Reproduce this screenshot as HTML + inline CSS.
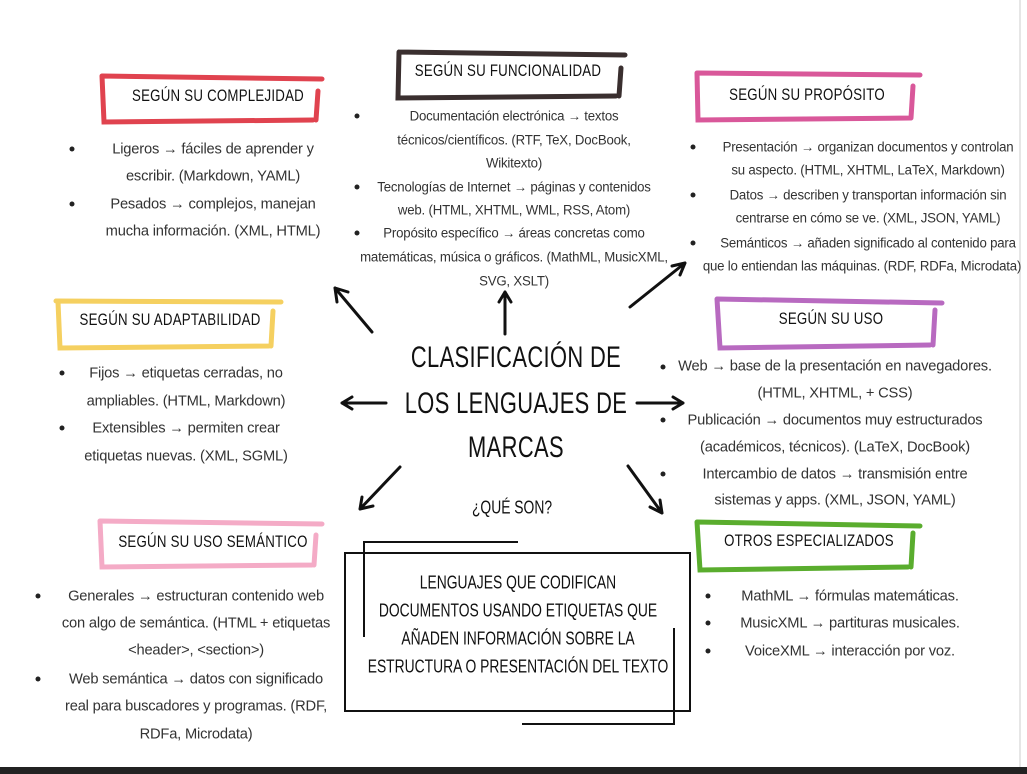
<!DOCTYPE html>
<html><head><meta charset="utf-8"><style>
body{margin:0;width:1027px;height:774px;background:#fff;position:relative;overflow:hidden;font-family:"Liberation Sans",sans-serif;color:#333}
.l{position:absolute;transform:translate(-50%,-50%) scaleX(0.98);white-space:nowrap;font-size:15px;letter-spacing:-0.2px}
.s{font-size:13.5px}
.h{position:absolute;transform:translate(-50%,-50%) scaleX(0.78);white-space:nowrap;font-size:17px;color:#111;letter-spacing:0.3px}
.b{position:absolute;width:5px;height:5px;border-radius:50%;background:#222;transform:translate(-50%,-50%)}
.t{position:absolute;transform:translate(-50%,-50%) scaleX(0.73);white-space:nowrap;font-size:30px;color:#111;letter-spacing:0.5px}
.m{position:absolute;transform:translate(-50%,-50%) scaleX(0.77);white-space:nowrap;font-size:18px;color:#111}
</style></head><body>
<svg width="1027" height="774" style="position:absolute;left:0;top:0">
<g fill="none" stroke-width="5" stroke-linecap="round">
<path d="M102,76 L322,79 M102,76 L104,122 L313,120 M318,91 L316,120" stroke="#e0434f"/>
<path d="M399,52 L625,55 M399,52 L398,98 L616,96 M621,68 L619,96" stroke="#3a2f2f"/>
<path d="M697,73 L920,75 M697,73 L698,120 L910,118 M913,86 L911,118" stroke="#d9589a"/>
<path d="M56,301 L281,302 M58,302 L60,348 L269,346 M273,311 L271,346" stroke="#f5d060"/>
<path d="M717,299 L942,303 M717,299 L720,348 L930,345 M935,310 L933,345" stroke="#b86ac0"/>
<path d="M100,521 L322,524 M100,521 L102,567 L312,565 M316,535 L314,565" stroke="#f4abc6"/>
<path d="M697,522 L920,526 M697,522 L700,570 L908,567 M913,533 L911,567" stroke="#5aad2e"/>
</g>
<g fill="none" stroke="#111" stroke-width="3" stroke-linecap="round" stroke-linejoin="round">
<path d="M372,332 L335,288 M335,288 L337,302 M335,288 L348,292"/>
<path d="M505,334 L505,292 M505,292 L499,302 M505,292 L511,302"/>
<path d="M630,307 L685,263 M685,263 L672,266 M685,263 L680,275"/>
<path d="M386,403 L342,403 M342,403 L352,397 M342,403 L352,409"/>
<path d="M637,403 L683,403 M683,403 L673,397 M683,403 L673,409"/>
<path d="M400,467 L360,509 M360,509 L373,506 M360,509 L362,497"/>
<path d="M628,466 L662,513 M662,513 L660,500 M662,513 L650,507"/>
</g>
<g fill="none" stroke="#111" stroke-width="2">
<rect x="345" y="553" width="345" height="158"/>
<path d="M364,637 L364,542 L518,542"/>
<path d="M522,724 L674,724 L674,628"/>
</g>
<rect x="0" y="767" width="1027" height="7" fill="#222"/>
<line x1="1020" y1="0" x2="1020" y2="767" stroke="#ccc" stroke-width="1"/>
</svg>

<div class="h" style="left:218px;top:96px">SEGÚN SU COMPLEJIDAD</div>
<div class="h" style="left:508px;top:71px">SEGÚN SU FUNCIONALIDAD</div>
<div class="h" style="left:807px;top:95px">SEGÚN SU PROPÓSITO</div>
<div class="h" style="left:170px;top:320px">SEGÚN SU ADAPTABILIDAD</div>
<div class="h" style="left:831px;top:319px">SEGÚN SU USO</div>
<div class="h" style="left:213px;top:542px">SEGÚN SU USO SEMÁNTICO</div>
<div class="h" style="left:809px;top:541px">OTROS ESPECIALIZADOS</div>

<div class="b" style="left:72px;top:149px"></div><div class="b" style="left:72px;top:204px"></div>
<div class="l" style="left:213px;top:149px">Ligeros → fáciles de aprender y</div>
<div class="l" style="left:213px;top:176px">escribir. (Markdown, YAML)</div>
<div class="l" style="left:213px;top:204px">Pesados → complejos, manejan</div>
<div class="l" style="left:213px;top:231px">mucha información. (XML, HTML)</div>

<div class="b" style="left:357px;top:116px"></div><div class="b" style="left:357px;top:187px"></div><div class="b" style="left:357px;top:233px"></div>
<div class="l s" style="left:514px;top:116px">Documentación electrónica → textos</div>
<div class="l s" style="left:514px;top:140px">técnicos/científicos. (RTF, TeX, DocBook,</div>
<div class="l s" style="left:514px;top:163px">Wikitexto)</div>
<div class="l s" style="left:514px;top:187px">Tecnologías de Internet → páginas y contenidos</div>
<div class="l s" style="left:514px;top:210px">web. (HTML, XHTML, WML, RSS, Atom)</div>
<div class="l s" style="left:514px;top:233px">Propósito específico → áreas concretas como</div>
<div class="l s" style="left:514px;top:257px">matemáticas, música o gráficos. (MathML, MusicXML,</div>
<div class="l s" style="left:514px;top:281px">SVG, XSLT)</div>

<div class="b" style="left:693px;top:147px"></div><div class="b" style="left:693px;top:195px"></div><div class="b" style="left:693px;top:243px"></div>
<div class="l s" style="left:868px;top:147px">Presentación → organizan documentos y controlan</div>
<div class="l s" style="left:868px;top:170px">su aspecto. (HTML, XHTML, LaTeX, Markdown)</div>
<div class="l s" style="left:868px;top:195px">Datos → describen y transportan información sin</div>
<div class="l s" style="left:868px;top:218px">centrarse en cómo se ve. (XML, JSON, YAML)</div>
<div class="l s" style="left:868px;top:243px">Semánticos → añaden significado al contenido para</div>
<div class="l s" style="left:862px;top:266px">que lo entiendan las máquinas. (RDF, RDFa, Microdata)</div>

<div class="b" style="left:62px;top:373px"></div><div class="b" style="left:62px;top:428px"></div>
<div class="l" style="left:186px;top:373px">Fijos → etiquetas cerradas, no</div>
<div class="l" style="left:186px;top:401px">ampliables. (HTML, Markdown)</div>
<div class="l" style="left:186px;top:428px">Extensibles → permiten crear</div>
<div class="l" style="left:186px;top:456px">etiquetas nuevas. (XML, SGML)</div>

<div class="b" style="left:663px;top:367px"></div><div class="b" style="left:663px;top:420px"></div><div class="b" style="left:663px;top:474px"></div>
<div class="l" style="left:835px;top:366px">Web → base de la presentación en navegadores.</div>
<div class="l" style="left:835px;top:393px">(HTML, XHTML, + CSS)</div>
<div class="l" style="left:835px;top:420px">Publicación → documentos muy estructurados</div>
<div class="l" style="left:835px;top:447px">(académicos, técnicos). (LaTeX, DocBook)</div>
<div class="l" style="left:835px;top:474px">Intercambio de datos → transmisión entre</div>
<div class="l" style="left:835px;top:500px">sistemas y apps. (XML, JSON, YAML)</div>

<div class="b" style="left:38px;top:596px"></div><div class="b" style="left:38px;top:679px"></div>
<div class="l" style="left:196px;top:596px">Generales → estructuran contenido web</div>
<div class="l" style="left:196px;top:623px">con algo de semántica. (HTML + etiquetas</div>
<div class="l" style="left:196px;top:650px">&lt;header&gt;, &lt;section&gt;)</div>
<div class="l" style="left:196px;top:679px">Web semántica → datos con significado</div>
<div class="l" style="left:196px;top:706px">real para buscadores y programas. (RDF,</div>
<div class="l" style="left:196px;top:734px">RDFa, Microdata)</div>

<div class="b" style="left:708px;top:596px"></div><div class="b" style="left:708px;top:623px"></div><div class="b" style="left:708px;top:651px"></div>
<div class="l" style="left:850px;top:596px">MathML → fórmulas matemáticas.</div>
<div class="l" style="left:850px;top:623px">MusicXML → partituras musicales.</div>
<div class="l" style="left:850px;top:651px">VoiceXML → interacción por voz.</div>

<div class="t" style="left:516px;top:358px">CLASIFICACIÓN DE</div>
<div class="t" style="left:516px;top:404px">LOS LENGUAJES DE</div>
<div class="t" style="left:516px;top:448px">MARCAS</div>
<div class="m" style="left:512px;top:508px">¿QUÉ SON?</div>

<div class="m" style="left:518px;top:583px">LENGUAJES QUE CODIFICAN</div>
<div class="m" style="left:518px;top:611px">DOCUMENTOS USANDO ETIQUETAS QUE</div>
<div class="m" style="left:518px;top:639px">AÑADEN INFORMACIÓN SOBRE LA</div>
<div class="m" style="left:518px;top:667px">ESTRUCTURA O PRESENTACIÓN DEL TEXTO</div>
</body></html>
